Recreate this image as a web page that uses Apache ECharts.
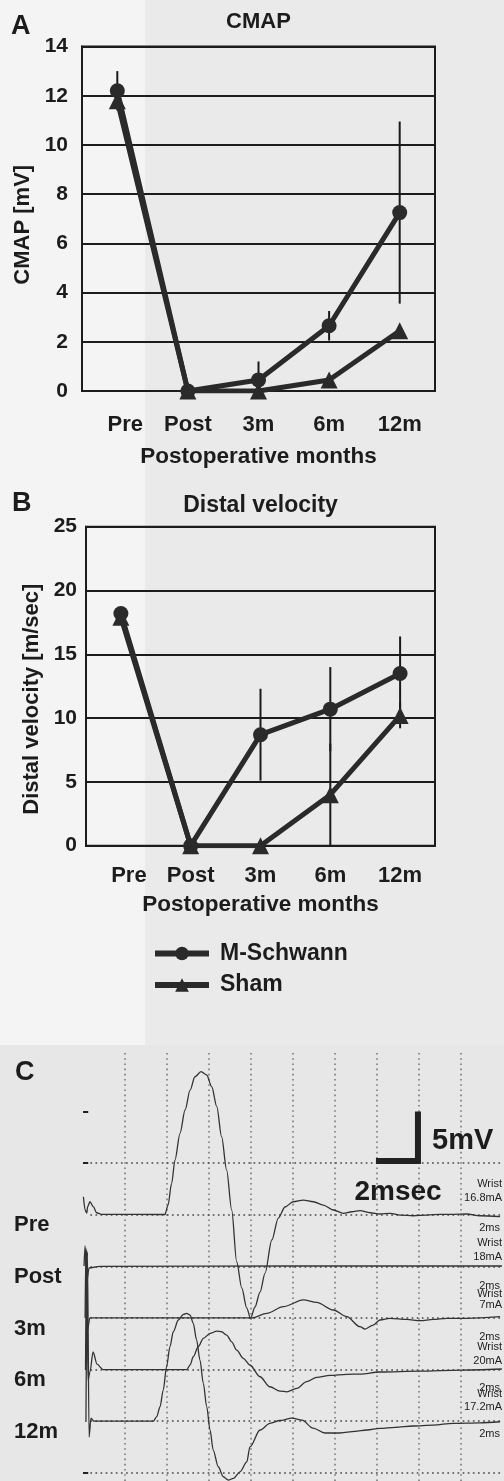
<!DOCTYPE html>
<html>
<head>
<meta charset="utf-8">
<script src="https://cdn.jsdelivr.net/npm/echarts@6/dist/echarts.min.js"></script>
<style>
html,body{margin:0;padding:0;background:#f3f3f3;}
#c{width:504px;height:1481px;}
</style>
</head>
<body>
<div id="c"></div>
<script>
// ---------- Panels A & B data ----------
const categories = ['Pre', 'Post', '3m', '6m', '12m'];
const cmapSchwann   = [12.2, 0, 0.45, 2.65, 7.25];
const cmapSchwannSD = [0.8, 0, 0.75, 0.6, 3.7];
const cmapSham      = [11.8, 0, 0, 0.45, 2.45];
const cmapShamSD    = [0.3, 0, 0, 0.1, 0.1];
const velSchwann    = [18.2, 0, 8.7, 10.7, 13.5];
const velSchwannSD  = [0.3, 0, 3.6, 3.3, 2.9];
const velSham       = [17.9, 0, 0, 4.0, 10.2];
const velShamSD     = [0.3, 0, 0, 4.0, 1.0];
const cmapTicks = [0, 14, 2];   // min, max, step
const velTicks  = [0, 25, 5];

// ---------- Panel C data (time in ms, amplitude in mV relative to each trace baseline) ----------
const traceNames = ['Pre', 'Post', '3m', '6m', '12m'];
const traceStim  = ['16.8mA', '18mA', '7mA', '20mA', '17.2mA'];
const traceSweep = ['2ms', '2ms', '2ms', '2ms', '2ms'];
const traceBaselines = [25, 20, 15, 10, 5];
const preT  = [0.02,0.10,0.18,0.22,0.33,0.49,0.65,0.89,3.90,4.05,4.22,4.38,4.62,4.86,5.10,5.33,5.62,5.89,6.13,6.37,6.60,6.84,7.08,7.32,7.56,7.80,7.98,8.19,8.43,8.67,8.99,9.30,9.62,10.01,10.49,10.97,11.44,11.92,12.40,12.80,13.19,13.67,14.14,14.62,15.10,15.73,16.37,17.00,17.63,18.27,18.90,19.86];
const preV  = [1.74,0.46,0.16,0.78,1.26,0.78,0.19,0.04,0.02,0.94,3.04,5.30,7.89,10.15,12.08,13.37,13.86,13.54,12.40,10.47,7.56,4.33,0.46,-4.58,-7.10,-9.04,-10.04,-8.94,-7.49,-5.65,-2.45,-0.32,0.75,1.26,1.42,1.26,0.94,0.46,0.14,0.29,0.39,0.19,0.07,0.14,-0.03,-0.10,-0.03,0.04,0.04,0.07,-0.10,-0.19];
const postT = [0.05,0.10,0.17,0.29,0.81,10.33,19.95];
const postV = [0.03,1.97,-1.62,-0.16,0,0.03,0.03];
const m3T   = [0.10,0.14,0.21,0.33,8.05,8.75,9.54,10.49,11.13,11.92,12.56,13.19,13.43,13.82,14.14,14.62,15.41,16.05,16.68,17.32,18.27,19.86];
const m3V   = [0,6.77,-1.17,0,0,0.45,1.09,1.75,1.5,0.77,0.12,-0.85,-1.08,-0.69,-0.20,-0.04,-0.14,-0.27,-0.14,-0.04,-0.04,0.12];
const m6T   = [0.12,0.17,0.24,0.33,0.48,0.67,0.95,4.94,5.10,5.25,5.49,5.73,6.05,6.37,6.60,6.84,7.08,7.32,7.63,7.95,8.43,8.90,9.38,9.70,10.18,10.65,11.13,11.76,12.56,13.19,14.14,16.05,17.95,19.95];
const m6V   = [-0.05,11.58,-1.02,-0.24,1.70,0.53,0,0,0.44,1.24,2.21,3.02,3.50,3.73,3.66,3.34,2.69,1.89,1.09,0.44,-0.70,-1.67,-2.09,-2.16,-1.83,-1.18,-0.76,-0.56,-0.46,-0.44,-0.24,-0.15,-0.05,0.05];
const m12T  = [0.14,0.21,0.29,0.38,0.52,3.35,3.51,3.67,3.82,3.98,4.14,4.30,4.54,4.78,4.94,5.10,5.25,5.41,5.57,5.73,5.89,6.05,6.20,6.44,6.68,6.92,7.16,7.48,7.80,7.95,8.43,8.90,9.38,9.95,10.43,10.95,11.52,12.24,12.95,13.52,14.14,14.86,15.71,16.67,17.62,18.90,19.86];
const m12V  = [-0.09,16.39,-1.54,0.30,0,0,0.43,1.40,3.01,5.27,7.21,8.66,9.80,10.35,10.45,10.28,9.48,7.86,5.92,3.66,1.40,-0.86,-2.80,-4.42,-5.39,-5.71,-5.55,-4.91,-3.94,-2.49,-0.86,-0.21,0.06,0.30,0.10,-0.67,-1.15,-1.15,-0.99,-0.86,-0.70,-0.60,-0.47,-0.38,-0.21,-0.16,-0.06];
const gridTimes  = [2, 4, 6, 8, 10, 12, 14, 16, 18];      // dotted time divisions (ms)
const gridLevels = [0, 5, 10, 15, 20, 25, 30];             // dotted amplitude divisions (mV)
const tickLevels = [0, 30, 35];
const scaleBarMs = 2, scaleBarMv = 5;

// ---------- build ----------
const FONT = '"Liberation Sans", Arial, Helvetica, sans-serif';
const INK = '#1c1c1c';
const LINE = '#2a2a2a';

function errData(mean, sd) {
  return mean.map((m, i) => [i, Math.max(0, m - sd[i]), m + sd[i], sd[i]]).filter(d => d[3] > 0);
}
function errSeries(gi, data) {
  return {
    type: 'custom', xAxisIndex: gi, yAxisIndex: gi, z: 2, silent: true, animation: false,
    renderItem(params, api) {
      const lo = api.coord([api.value(0), api.value(1)]);
      const hi = api.coord([api.value(0), api.value(2)]);
      return { type: 'line', shape: { x1: lo[0], y1: lo[1], x2: hi[0], y2: hi[1] },
               style: { stroke: '#1a1a1a', lineWidth: 2 } };
    },
    encode: { x: 0, y: [1, 2] },
    data
  };
}
function lineSeries(name, gi, data, symbol, size) {
  return {
    name, type: 'line', xAxisIndex: gi, yAxisIndex: gi, data, symbol, symbolSize: size,
    showSymbol: true, z: 3, animation: false, silent: true,
    lineStyle: { color: LINE, width: 5 }, itemStyle: { color: LINE }
  };
}
const boldLabel = (size) => ({ color: INK, fontSize: size, fontWeight: 'bold', fontFamily: FONT });

function catAxis(gi, margin, nameGap) {
  return {
    gridIndex: gi, type: 'category', data: categories, boundaryGap: true,
    axisLine: { show: true, lineStyle: { color: INK, width: 2 } },
    axisTick: { show: false },
    axisLabel: Object.assign(boldLabel(22), {
      margin, interval: 0, hideOverlap: false,
      formatter: (v, i) => i === 0 ? '{a|' + v + '}' : v,
      rich: { a: Object.assign(boldLabel(22), { padding: [0, 0, 0, 16] }) }
    }),
    splitLine: { show: false },
    name: 'Postoperative months', nameLocation: 'middle', nameGap,
    nameTextStyle: boldLabel(22.5)
  };
}
function valAxis(gi, ticks, name, nameGap, margin, shift) {
  return {
    gridIndex: gi, type: 'value', min: ticks[0], max: ticks[1], interval: ticks[2],
    axisLine: { show: true, lineStyle: { color: INK, width: 2 } },
    axisTick: { show: false },
    axisLabel: Object.assign(boldLabel(21), { margin }),
    splitLine: { show: true, lineStyle: { color: INK, width: 2 } },
    name, nameLocation: 'middle', nameGap,
    nameTextStyle: Object.assign(boldLabel(22), { padding: [0, shift, 0, 0] })
  };
}

// Panel C traces
const traces = [[preT, preV], [postT, postV], [m3T, m3V], [m6T, m6V], [m12T, m12V]];
const dotV = { color: '#7a7a7a', width: 1.6, type: [1.6, 3.6] };
const dotH = { color: '#4a4a4a', width: 1.7, type: [1.7, 3.4] };
const C_YMIN = -0.8, C_YMAX = 41, C_XMAX = 20;
const markData = [];
gridTimes.forEach(t => markData.push([{ coord: [t, C_YMIN], lineStyle: dotV }, { coord: [t, C_YMAX] }]));
gridLevels.forEach(v => markData.push([{ coord: [0.35, v], lineStyle: dotH }, { coord: [C_XMAX, v] }]));
tickLevels.forEach(v => markData.push([{ coord: [0, v], lineStyle: { color: '#222', width: 2, type: 'solid' } }, { coord: [0.25, v] }]));

const traceSeries = traces.map((tr, k) => ({
  name: traceNames[k], type: 'line', xAxisIndex: 2, yAxisIndex: 2,
  data: tr[0].map((t, i) => [t, tr[1][i] + traceBaselines[k]]),
  showSymbol: false, symbol: 'none', smooth: 0.3, smoothMonotone: 'x',
  lineStyle: { color: '#333', width: 1.3 }, z: 4, silent: true, animation: false,
  markLine: k === 0 ? { silent: true, symbol: 'none', label: { show: false }, animation: false, data: markData, z: 1 } : undefined
}));
const sbX = 15.95, sbY = 30.2;
const scaleBar = {
  type: 'line', xAxisIndex: 2, yAxisIndex: 2, silent: true, animation: false, z: 5,
  data: [[sbX - scaleBarMs, sbY], [sbX, sbY], [sbX, sbY + scaleBarMv - 0.2]],
  showSymbol: false, symbol: 'none',
  lineStyle: { color: '#222', width: 6, join: 'miter', cap: 'butt' }
};

// text elements
function txt(text, x, y, size, o = {}) {
  return {
    type: 'text', x, y, silent: true, z: 20,
    style: {
      text, x: 0, y: 0, fill: o.fill || INK,
      fontSize: size, fontWeight: o.weight || 'bold', fontFamily: FONT,
      align: o.align || 'left', verticalAlign: 'middle',
      textAlign: o.align || 'left', textVerticalAlign: 'middle'
    }
  };
}
const graphics = [
  { type: 'rect', silent: true, z: -10, shape: { x: 0, y: 0, width: 504, height: 1481 }, style: { fill: '#f4f4f4' } },
  { type: 'rect', silent: true, z: -9, shape: { x: 145, y: 0, width: 359, height: 1045 }, style: { fill: '#eaeaea' } },
  { type: 'rect', silent: true, z: -9, shape: { x: 0, y: 1045, width: 504, height: 436 }, style: { fill: '#e7e7e7' } },
  txt('A', 11, 27, 27),
  txt('CMAP', 258.5, 22, 22, { align: 'center' }),
  txt('B', 12, 504, 27),
  txt('Distal velocity', 260.5, 506, 23, { align: 'center' }),
  txt('C', 15, 1073, 27),
  txt('5mV', 432, 1141, 29),
  txt('2msec', 398, 1192, 28, { align: 'center' })
];
const rowLabelY = [1225, 1277, 1329, 1380, 1432];
const wristY = [1184, 1243, 1294, 1347, 1394];
const stimY  = [1198, 1257, 1305, 1361, 1407];
const sweepY = [1228, 1286, 1337, 1388, 1434];
traceNames.forEach((n, k) => {
  graphics.push(txt(n, 14, rowLabelY[k], 22));
  graphics.push(txt('Wrist', 502, wristY[k], 11, { align: 'right', weight: 'normal', fill: '#222' }));
  graphics.push(txt(traceStim[k], 502, stimY[k], 11, { align: 'right', weight: 'normal', fill: '#222' }));
  graphics.push(txt(traceSweep[k], 500, sweepY[k], 11, { align: 'right', weight: 'normal', fill: '#222' }));
});

const option = {
  animation: false,
  backgroundColor: '#f4f4f4',
  textStyle: { fontFamily: FONT },
  grid: [
    { left: 82, top: 46.5, width: 353, height: 344.5, show: true, borderColor: INK, borderWidth: 2, backgroundColor: 'transparent' },
    { left: 86, top: 526.7, width: 349, height: 319, show: true, borderColor: INK, borderWidth: 2, backgroundColor: 'transparent' },
    { left: 83, top: 1049.6, width: 420, height: 431.4, show: false }
  ],
  xAxis: [
    catAxis(0, 23, 54),
    catAxis(1, 19, 48),
    { gridIndex: 2, type: 'value', min: 0, max: C_XMAX, show: false }
  ],
  yAxis: [
    valAxis(0, cmapTicks, 'CMAP [mV]', 44, 14, 12),
    valAxis(1, velTicks, 'Distal velocity [m/sec]', 43, 9, 26),
    { gridIndex: 2, type: 'value', min: C_YMIN, max: C_YMAX, show: false }
  ],
  legend: {
    data: ['M-Schwann', 'Sham'], orient: 'vertical', left: 147, top: 937,
    itemWidth: 54, itemHeight: 17, itemGap: 8.5, selectedMode: false,
    textStyle: Object.assign(boldLabel(23), { padding: [0, 0, 0, 6] }),
    lineStyle: { width: 6 }
  },
  graphic: graphics,
  series: [
    errSeries(0, errData(cmapSham, cmapShamSD)),
    errSeries(0, errData(cmapSchwann, cmapSchwannSD)),
    lineSeries('Sham', 0, cmapSham, 'triangle', 17),
    lineSeries('M-Schwann', 0, cmapSchwann, 'circle', 15),
    errSeries(1, errData(velSham, velShamSD)),
    errSeries(1, errData(velSchwann, velSchwannSD)),
    lineSeries('Sham', 1, velSham, 'triangle', 17),
    lineSeries('M-Schwann', 1, velSchwann, 'circle', 15),
    ...traceSeries,
    scaleBar
  ]
};
const chart = echarts.init(document.getElementById('c'), null, { renderer: 'canvas', width: 504, height: 1481 });
chart.setOption(option);
</script>
</body>
</html>
